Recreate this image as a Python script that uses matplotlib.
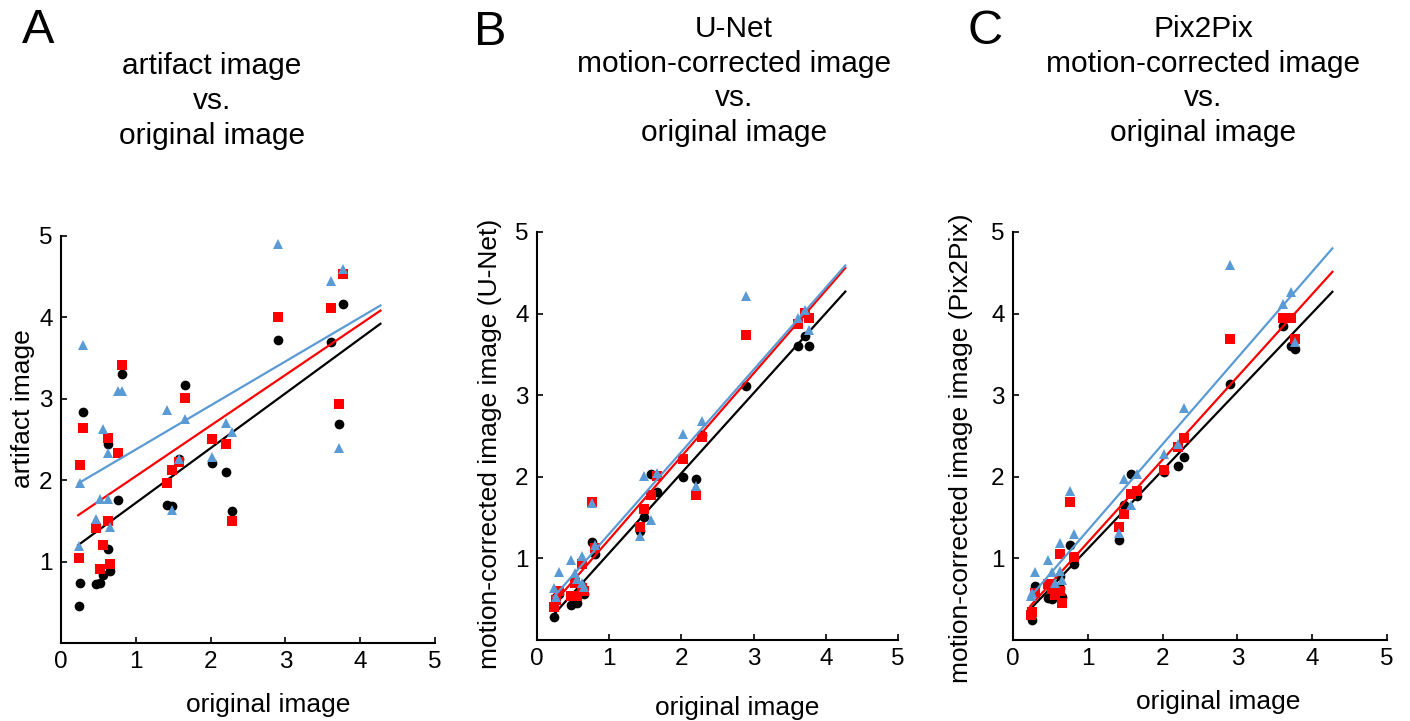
import numpy as np
import matplotlib
matplotlib.use('Agg')
import matplotlib.pyplot as plt

plt.rcParams['font.family'] = ['Liberation Sans', 'DejaVu Sans']

# original image scores (shared x values for all panels)
orig = [0.24, 0.26, 0.30, 0.47, 0.52, 0.56, 0.63, 0.63, 0.65, 0.76, 0.81,
        1.42, 1.48, 1.58, 1.66, 2.02, 2.20, 2.29, 2.90, 3.61, 3.71, 3.77]

# panel A: artifact image
a_black = [0.46, 0.74, 2.84, 0.73, 0.74, 0.84, 2.44, 1.15, 0.88, 1.76, 3.31,
           1.69, 1.68, 2.26, 3.17, 2.21, 2.10, 1.62, 3.72, 3.70, 2.69, 4.17]
a_red = [1.05, 2.19, 2.64, 1.41, 0.91, 1.21, 2.52, 1.50, 0.97, 2.33, 3.42,
         1.97, 2.12, 2.22, 3.01, 2.51, 2.44, 1.50, 4.00, 4.12, 2.94, 4.53]
a_blue = [1.19, 1.96, 3.66, 1.52, 1.77, 2.63, 2.33, 1.77, 1.43, 3.10, 3.10,
          2.86, 1.63, 2.26, 2.75, 2.29, 2.70, 2.59, 4.90, 4.45, 2.39, 4.59]

# panel B: U-Net corrected image
b_black = [0.28, 0.53, 0.56, 0.43, 0.50, 0.45, 0.66, 0.62, 0.56, 1.20, 1.05,
           1.33, 1.51, 2.03, 1.81, 2.00, 1.97, 2.51, 3.11, 3.60, 3.73, 3.60]
b_red = [0.41, 0.49, 0.60, 0.54, 0.70, 0.54, 0.93, 0.64, 0.60, 1.69, 1.13,
         1.38, 1.61, 1.78, 2.01, 2.22, 1.78, 2.49, 3.74, 3.87, 4.01, 3.95]
b_blue = [0.64, 0.53, 0.83, 0.98, 0.82, 0.75, 1.03, 0.70, 0.65, 1.68, 1.17,
          1.28, 2.01, 1.47, 2.05, 2.52, 1.89, 2.68, 4.21, 3.94, 4.04, 3.80]

# panel C: Pix2Pix corrected image
c_black = [0.29, 0.25, 0.66, 0.52, 0.50, 0.54, 0.78, 0.64, 0.53, 1.16, 0.93,
           1.23, 1.65, 2.04, 1.77, 2.06, 2.13, 2.24, 3.14, 3.85, 3.60, 3.57]
c_red = [0.31, 0.34, 0.58, 0.69, 0.62, 0.55, 1.06, 0.60, 0.45, 1.69, 1.02,
         1.39, 1.54, 1.79, 1.83, 2.08, 2.37, 2.47, 3.69, 3.94, 3.94, 3.69]
c_blue = [0.54, 0.58, 0.83, 0.98, 0.83, 0.70, 1.19, 0.85, 0.74, 1.83, 1.30,
          1.31, 1.97, 1.65, 2.03, 2.28, 2.40, 2.84, 4.60, 4.12, 4.27, 3.65]

# regression lines: (slope, intercept) per series
a_fit = [(0.673, 1.048), (0.622, 1.427), (0.541, 1.836)]
b_fit = [(0.980, 0.085), (1.017, 0.216), (1.006, 0.294)]
c_fit = [(0.963, 0.155), (1.014, 0.182), (1.057, 0.286)]
fit_range = [0.23, 4.27]

titles = ['artifact image\nvs.\noriginal image',
          'U-Net\nmotion-corrected image\nvs.\noriginal image',
          'Pix2Pix\nmotion-corrected image\nvs.\noriginal image']
ylabels = ['artifact image',
           'motion-corrected image image (U-Net)',
           'motion-corrected image image (Pix2Pix)']
letters = ['A', 'B', 'C']

colors = ['black', '#ff0000', '#5b9bd5']
markers = ['o', 's', '^']
msizes = [7, 6.5, 7]

fig = plt.figure(figsize=(14.1, 7.21), dpi=100)

boxes = [[61/1410, 1 - 643/721, 374/1410, 407/721],
         [537/1410, 1 - 640/721, 361/1410, 408/721],
         [1013/1410, 1 - 640/721, 374/1410, 408/721]]
title_pos = [(212/1410, 1 - 101/721), (734/1410, 1 - 81/721), (1203/1410, 1 - 81/721)]
letter_pos = [(22/1410, 1 - 8/721), (474/1410, 1 - 10/721), (968/1410, 1 - 9/721)]
ylab_pos = [(-0.07, 0.577), (-0.097, 0.48), (-0.107, 0.47)]
xlab_pos = [(0.555, -0.122), (0.555, -0.137), (0.548, -0.122)]

panels = [(a_black, a_red, a_blue, a_fit),
          (b_black, b_red, b_blue, b_fit),
          (c_black, c_red, c_blue, c_fit)]

xs = np.array(orig)
xf = np.array(fit_range)
for i, (yk, yr, yb, fits) in enumerate(panels):
    ax = fig.add_axes(boxes[i])
    for ys, col, mk, ms, (m, b) in zip([yk, yr, yb], colors, markers, msizes, fits):
        ax.plot(xs, ys, linestyle='none', marker=mk, color=col, markersize=ms,
                markeredgewidth=0)
        ax.plot(xf, m * xf + b, color=col, linewidth=1.6)
    ax.set_xlim(0, 5)
    ax.set_ylim(0, 5)
    ax.set_xticks([0, 1, 2, 3, 4, 5])
    ax.set_yticks([1, 2, 3, 4, 5])
    ax.spines['top'].set_visible(False)
    ax.spines['right'].set_visible(False)
    ax.spines['left'].set_linewidth(1.5)
    ax.spines['bottom'].set_linewidth(1.5)
    ax.tick_params(direction='in', length=4, width=1.2, labelsize=17.5, pad=6)
    ax.set_xlabel('original image', fontsize=19)
    ax.set_ylabel(ylabels[i], fontsize=19)
    ax.xaxis.set_label_coords(*xlab_pos[i])
    ax.yaxis.set_label_coords(*ylab_pos[i])
    fig.text(title_pos[i][0], title_pos[i][1], titles[i], ha='center', va='center',
             fontsize=21.5, linespacing=1.3)
    fig.text(letter_pos[i][0], letter_pos[i][1], letters[i], ha='left', va='top',
             fontsize=35)

fig.savefig('out.png', dpi=100)
